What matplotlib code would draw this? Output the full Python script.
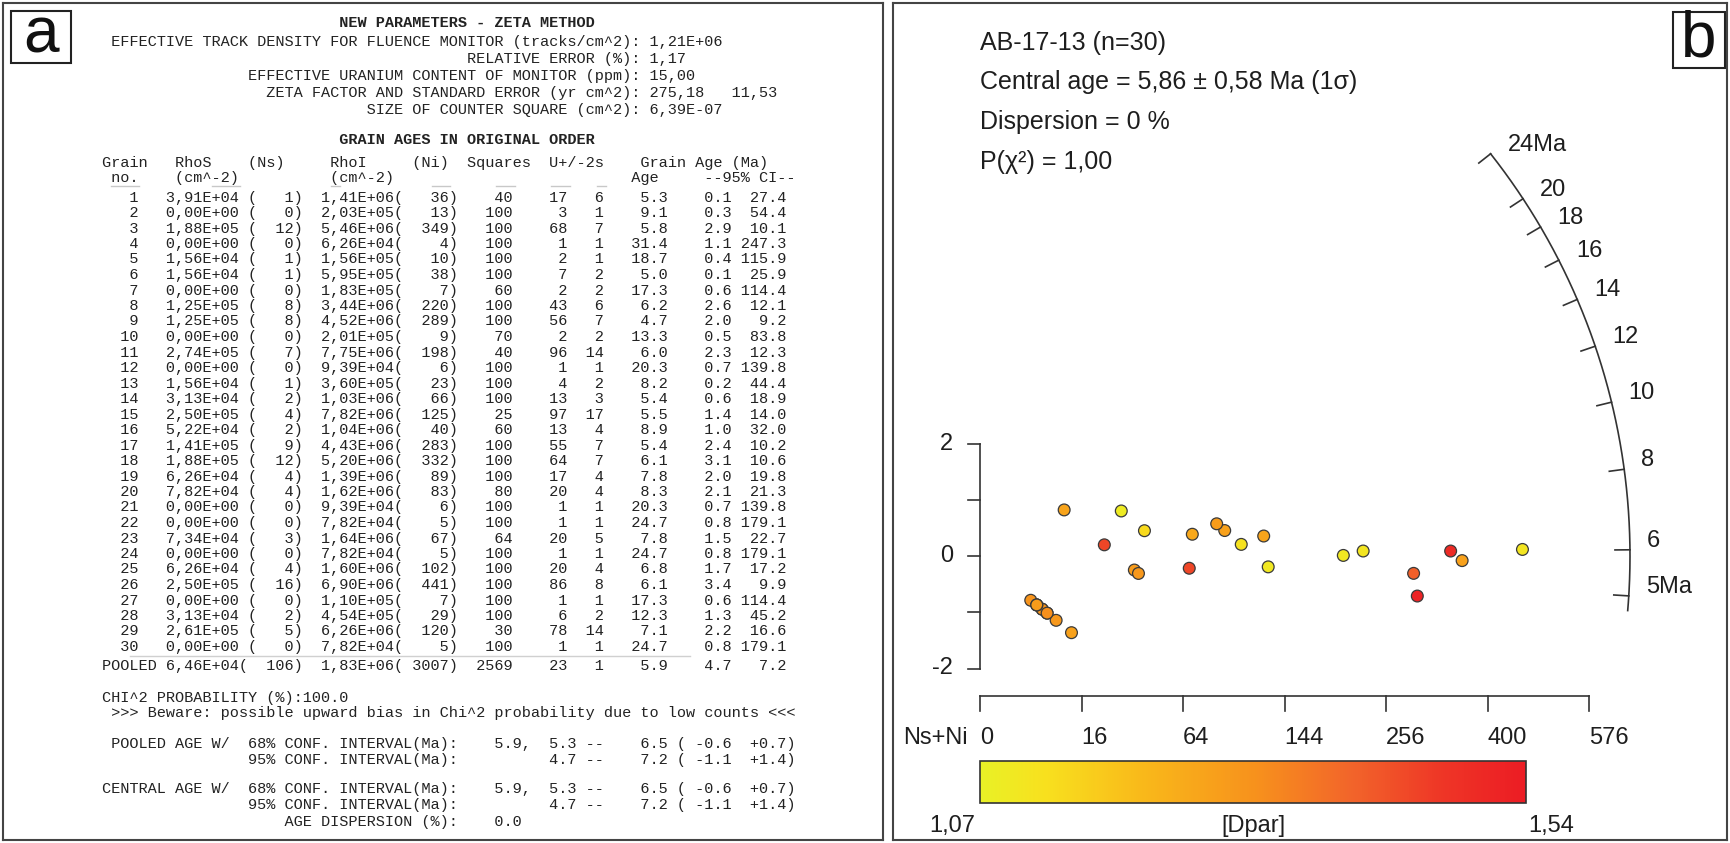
import numpy as np
import matplotlib
matplotlib.use('Agg')
import matplotlib.pyplot as plt
from matplotlib.colors import LinearSegmentedColormap, Normalize
from matplotlib.patches import Rectangle
import matplotlib.cm as cm

# ---------------- grain table (panel a) ----------------
grain = list(range(1, 31))
rho_s = [3.91e4, 0, 1.88e5, 0, 1.56e4, 1.56e4, 0, 1.25e5, 1.25e5, 0, 2.74e5, 0, 1.56e4, 3.13e4, 2.50e5,
         5.22e4, 1.41e5, 1.88e5, 6.26e4, 7.82e4, 0, 0, 7.34e4, 0, 6.26e4, 2.50e5, 0, 3.13e4, 2.61e5, 0]
ns = [1, 0, 12, 0, 1, 1, 0, 8, 8, 0, 7, 0, 1, 2, 4, 2, 9, 12, 4, 4, 0, 0, 3, 0, 4, 16, 0, 2, 5, 0]
rho_i = [1.41e6, 2.03e5, 5.46e6, 6.26e4, 1.56e5, 5.95e5, 1.83e5, 3.44e6, 4.52e6, 2.01e5, 7.75e6, 9.39e4,
         3.60e5, 1.03e6, 7.82e6, 1.04e6, 4.43e6, 5.20e6, 1.39e6, 1.62e6, 9.39e4, 7.82e4, 1.64e6, 7.82e4,
         1.60e6, 6.90e6, 1.10e5, 4.54e5, 6.26e6, 7.82e4]
ni = [36, 13, 349, 4, 10, 38, 7, 220, 289, 9, 198, 6, 23, 66, 125, 40, 283, 332, 89, 83, 6, 5, 67, 5,
      102, 441, 7, 29, 120, 5]
squares = [40, 100, 100, 100, 100, 100, 60, 100, 100, 70, 40, 100, 100, 100, 25, 60, 100, 100, 100, 80,
           100, 100, 64, 100, 100, 100, 100, 100, 30, 100]
u_val = [17, 3, 68, 1, 2, 7, 2, 43, 56, 2, 96, 1, 4, 13, 97, 13, 55, 64, 17, 20, 1, 1, 20, 1, 20, 86, 1, 6, 78, 1]
u_err = [6, 1, 7, 1, 1, 2, 2, 6, 7, 2, 14, 1, 2, 3, 17, 4, 7, 7, 4, 4, 1, 1, 5, 1, 4, 8, 1, 2, 14, 1]
age = [5.3, 9.1, 5.8, 31.4, 18.7, 5.0, 17.3, 6.2, 4.7, 13.3, 6.0, 20.3, 8.2, 5.4, 5.5, 8.9, 5.4, 6.1, 7.8,
       8.3, 20.3, 24.7, 7.8, 24.7, 6.8, 6.1, 17.3, 12.3, 7.1, 24.7]
age_lo = [0.1, 0.3, 2.9, 1.1, 0.4, 0.1, 0.6, 2.6, 2.0, 0.5, 2.3, 0.7, 0.2, 0.6, 1.4, 1.0, 2.4, 3.1, 2.0,
          2.1, 0.7, 0.8, 1.5, 0.8, 1.7, 3.4, 0.6, 1.3, 2.2, 0.8]
age_hi = [27.4, 54.4, 10.1, 247.3, 115.9, 25.9, 114.4, 12.1, 9.2, 83.8, 12.3, 139.8, 44.4, 18.9, 14.0,
          32.0, 10.2, 10.6, 19.8, 21.3, 139.8, 179.1, 22.7, 179.1, 17.2, 9.9, 114.4, 45.2, 16.6, 179.1]
pooled = dict(rs=6.46e4, ns=106, ri=1.83e6, ni=3007, sq=2569, u=23, ue=1, age=5.9, lo=4.7, hi=7.2)

top_labels = ["EFFECTIVE TRACK DENSITY FOR FLUENCE MONITOR (tracks/cm^2):",
              "RELATIVE ERROR (%):",
              "EFFECTIVE URANIUM CONTENT OF MONITOR (ppm):",
              "ZETA FACTOR AND STANDARD ERROR (yr cm^2):",
              "SIZE OF COUNTER SQUARE (cm^2):"]
top_values = ["1,21E+06", "1,17", "15,00", "275,18   11,53", "6,39E-07"]

# Dpar per grain (panel b)
dpar = [1.28, 1.27, 1.27, 1.30, 1.26, 1.29, 1.36, 1.11, 1.52, 1.29, 1.10, 1.34, 1.44, 1.44, 1.10,
        1.14, 1.40, 1.50, 1.27, 1.28, 1.30, 1.24, 1.25, 1.33, 1.12, 1.11, 1.31, 1.09, 1.26, 1.28]
dpar_min, dpar_max = 1.07, 1.54
central_age = 5.86
arc_ticks = [5, 6, 8, 10, 12, 14, 16, 18, 20, 24]
nsni_ticks = [0, 16, 64, 144, 256, 400, 576]
zeta, rho_d, lam, g = 275.18, 1.21e6, 1.55125e-10, 0.5

W, H = 1730, 843
fig = plt.figure(figsize=(W / 100, H / 100), dpi=100)

# ---------------- panel a ----------------
axa = fig.add_axes([3 / W, (H - 840) / H, 880 / W, 837 / H])
axa.set_xlim(3, 883)
axa.set_ylim(840, 3)
axa.set_xticks([])
axa.set_yticks([])
for s in axa.spines.values():
    s.set_color('#444444')
    s.set_linewidth(1.5)

MONO = 'Liberation Mono'
FS = 11.0
X0 = 102
CW = 9.17
TC = '#222222'


def put(parts):
    buf = [' '] * 80
    for c, t in parts:
        buf[c:c + len(t)] = list(t)
    return ''.join(buf).rstrip()


def sci(v):
    return f"{v:.2E}".replace('.', ',')


def mono(y, s, bold=False, color=TC):
    axa.text(X0, y, s, family=MONO, fontsize=FS, va='center', ha='left', color=color,
             fontweight='bold' if bold else 'normal')


mono(23, put([(26, "NEW PARAMETERS - ZETA METHOD")]), bold=True)
for i, (lab, val) in enumerate(zip(top_labels, top_values)):
    mono(42 + i * 17, lab.rjust(59) + " " + val)

mono(140, put([(26, "GRAIN AGES IN ORIGINAL ORDER")]), bold=True)
mono(163, put([(0, "Grain"), (8, "RhoS"), (16, "(Ns)"), (25, "RhoI"), (34, "(Ni)"),
               (40, "Squares"), (49, "U+/-2s"), (59, "Grain Age (Ma)")]))
mono(178, put([(1, "no."), (8, "(cm^-2)"), (25, "(cm^-2)"), (58, "Age"), (66, "--95% CI--")]))
# faint underline marks below the column headers
for c0, c1 in [(1, 4), (12, 15), (25, 26), (36, 38), (43, 45), (49, 51), (54, 55)]:
    axa.plot([X0 + c0 * CW, X0 + c1 * CW], [186, 186], color='#c8c8c8', lw=1)

for i in range(30):
    row = put([(0, f"{grain[i]:4d}"), (7, sci(rho_s[i])), (16, "("), (17, f"{ns[i]:4d}"), (21, ")"),
               (24, sci(rho_i[i])), (32, "("), (33, f"{ni[i]:5d}"), (38, ")"),
               (39, f"{squares[i]:6d}"), (45, f"{u_val[i]:6d}"), (51, f"{u_err[i]:4d}"),
               (55, f"{age[i]:7.1f}"), (62, f"{age_lo[i]:7.1f}"), (69, f"{age_hi[i]:6.1f}")])
    mono(197.5 + i * 15.5, row)

axa.plot([130, 690], [656, 656], color='#d0d0d0', lw=1)
p = pooled
mono(666, put([(0, "POOLED"), (7, sci(p['rs'])), (15, "("), (16, f"{p['ns']:5d}"), (21, ")"),
               (24, sci(p['ri'])), (32, "("), (33, f"{p['ni']:5d}"), (38, ")"),
               (39, f"{p['sq']:6d}"), (45, f"{p['u']:6d}"), (51, f"{p['ue']:4d}"),
               (55, f"{p['age']:7.1f}"), (62, f"{p['lo']:7.1f}"), (69, f"{p['hi']:6.1f}")]))

mono(698, "CHI^2 PROBABILITY (%):100.0")
mono(713, " >>> Beware: possible upward bias in Chi^2 probability due to low counts <<<")
mono(744, put([(1, "POOLED AGE W/"), (16, "68% CONF. INTERVAL(Ma):"), (43, "5.9,"),
               (49, "5.3 --"), (59, "6.5 ( -0.6  +0.7)")]))
mono(760, put([(16, "95% CONF. INTERVAL(Ma):"), (49, "4.7 --"), (59, "7.2 ( -1.1  +1.4)")]))
mono(789, put([(0, "CENTRAL AGE W/"), (16, "68% CONF. INTERVAL(Ma):"), (43, "5.9,"),
               (49, "5.3 --"), (59, "6.5 ( -0.6  +0.7)")]))
mono(805, put([(16, "95% CONF. INTERVAL(Ma):"), (49, "4.7 --"), (59, "7.2 ( -1.1  +1.4)")]))
mono(822, put([(20, "AGE DISPERSION (%):"), (43, "0.0")]))

axa.add_patch(Rectangle((11, 11), 60, 52, fill=False, ec='#222222', lw=1.5))
axa.text(41, 35, "a", fontsize=46, family='Liberation Sans', ha='center', va='center', color='#111111')

# ---------------- panel b: radial plot ----------------
SANS = ['Liberation Sans Narrow', 'Liberation Sans', 'DejaVu Sans']
SX, SY = 25.375, 56.25      # px per unit (sqrt(Ns+Ni), standardised estimate)
OX, OY = 980, 556           # origin in px
L, R, T, B = 893, 1727, 3, 840

axb = fig.add_axes([L / W, (H - B) / H, (R - L) / W, (B - T) / H])
axb.set_xlim((L - OX) / SX, (R - OX) / SX)
axb.set_ylim((OY - B) / SY, (OY - T) / SY)
axb.set_xticks([])
axb.set_yticks([])
for s in axb.spines.values():
    s.set_color('#444444')
    s.set_linewidth(1.5)


def px(x):
    return (x - OX) / SX


def py(y):
    return (OY - y) / SY


def z_of_age(t_ma):
    r = np.expm1(lam * np.asarray(t_ma) * 1e6) / (lam * zeta * g * rho_d)
    return np.arcsin(np.sqrt(r / (1 + r)))


z0 = z_of_age(central_age)
ns_a = np.array(ns, float)
n_a = ns_a + np.array(ni, float)
z = np.arcsin(np.sqrt(ns_a / n_a))
xs = np.sqrt(n_a)
ys = 2 * (z - z0) * np.sqrt(n_a + 0.5)

cmap = LinearSegmentedColormap.from_list(
    'dpar', [(0, '#e9f126'), (0.12, '#f8e01e'), (0.3, '#f9b81a'), (0.5, '#f7921c'),
             (0.68, '#f2652a'), (0.85, '#ee3526'), (1, '#ec1c24')])
norm = Normalize(dpar_min, dpar_max)

LC = '#333333'
TXT = '#1e1e1e'

# arc of ages
RAD = 650.0


def theta(t):
    return np.arctan(2 * (z_of_age(t) - z0) * SY / SX)


th = np.linspace(theta(arc_ticks[-1]), theta(4.7), 300)
axb.plot(RAD * np.cos(th) / SX, RAD * np.sin(th) / SY, color=LC, lw=1.2)
for t in arc_ticks:
    a = theta(t)
    axb.plot([RAD * np.cos(a) / SX, (RAD - 15) * np.cos(a) / SX],
             [RAD * np.sin(a) / SY, (RAD - 15) * np.sin(a) / SY], color=LC, lw=1.2)
    lab = f"{t}Ma" if t in (arc_ticks[0], arc_ticks[-1]) else str(t)
    axb.text((RAD * np.cos(a) + 17) / SX, (RAD * np.sin(a) + 9) / SY, lab, family=SANS,
             fontsize=17, ha='left', va='center', color=TXT)

# y axis (standardised estimate)
axb.plot([0, 0], [-2, 2], color=LC, lw=1.2)
for v in [-2, -1, 0, 1, 2]:
    axb.plot([0, -12 / SX], [v, v], color=LC, lw=1.2)
for v in [-2, 0, 2]:
    axb.text(-27 / SX, v, str(v), family=SANS, fontsize=17, ha='right', va='center', color=TXT)

# Ns+Ni axis
ya = py(696)
axb.plot([0, np.sqrt(nsni_ticks[-1])], [ya, ya], color=LC, lw=1.2)
for v in nsni_ticks:
    xv = np.sqrt(v)
    axb.plot([xv, xv], [ya, ya - 15 / SY], color=LC, lw=1.2)
    axb.text(xv, py(738), str(v), family=SANS, fontsize=17, ha='left', va='center', color=TXT)
axb.text(px(968), py(738), "Ns+Ni", family=SANS, fontsize=17, ha='right', va='center', color=TXT)

# grains
axb.scatter(xs, ys, c=dpar, cmap=cmap, norm=norm, s=72, edgecolors='#3a3a3a', linewidths=0.9, zorder=5)

# header text
hdr = ["AB-17-13 (n=30)", "Central age = 5,86 \u00b1 0,58 Ma (1\u03c3)", "Dispersion = 0 %",
       "P(\u03c7\u00b2) = 1,00"]
for i, s in enumerate(hdr):
    axb.text(px(980), py(43 + i * 39.5), s, family=SANS, fontsize=18, ha='left', va='center', color=TXT)

axb.add_patch(Rectangle((px(1673), py(68)), 52 / SX, 56 / SY, fill=False, ec='#222222', lw=1.5))
axb.text(px(1699), py(40), "b", fontsize=46, family='Liberation Sans', ha='center', va='center',
         color='#111111')

# colour bar
cax = fig.add_axes([980 / W, (H - 803) / H, (1526 - 980) / W, (803 - 761) / H])
cb = fig.colorbar(cm.ScalarMappable(norm=norm, cmap=cmap), cax=cax, orientation='horizontal')
cb.set_ticks([])
cb.outline.set_edgecolor('#333333')
cb.outline.set_linewidth(1.2)
axb.text(px(975), py(826), f"{dpar_min:.2f}".replace('.', ','), family=SANS, fontsize=17,
         ha='right', va='center', color=TXT)
axb.text(px(1528), py(826), f"{dpar_max:.2f}".replace('.', ','), family=SANS, fontsize=17,
         ha='left', va='center', color=TXT)
axb.text(px(1253), py(826), "[Dpar]", family=SANS, fontsize=17, ha='center', va='center', color=TXT)

fig.savefig('out.png', dpi=100)
